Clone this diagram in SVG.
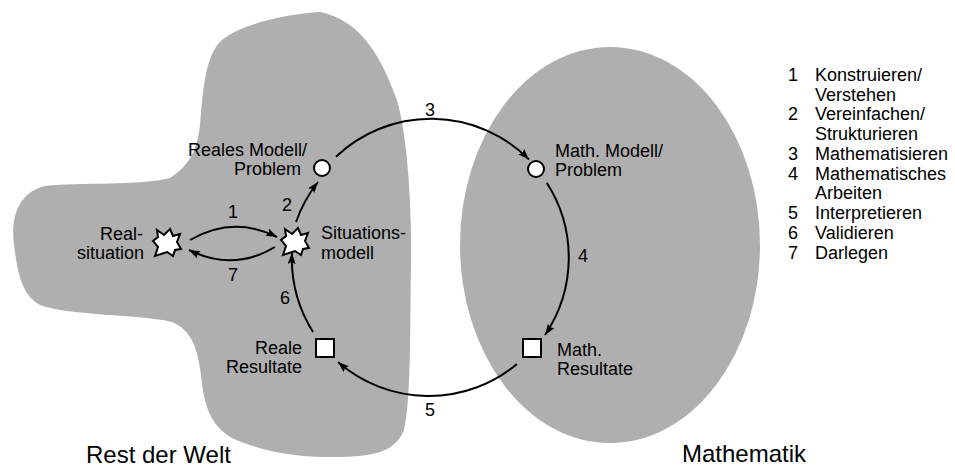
<svg xmlns="http://www.w3.org/2000/svg" width="955" height="467" viewBox="0 0 955 467">
<style>
text{font-family:"Liberation Sans",Arial,Helvetica,sans-serif;font-size:18px;fill:#000}
.title{font-size:24px}
.region{fill:#afafaf;stroke:none}
.conn{fill:none;stroke:#000;stroke-width:2;marker-end:url(#arrow)}
.shape{fill:#fff;stroke:#000;stroke-width:2;stroke-linejoin:miter}
.e{text-anchor:end}
.m{text-anchor:middle}
</style>
<defs>
<marker id="arrow" markerUnits="userSpaceOnUse" markerWidth="12" markerHeight="10" refX="11" refY="4" orient="auto">
<path d="M0,0 L11,4 L0,8 L2,4 z" fill="#000"/>
</marker>
<polygon id="star" points="-10,-13 -3,-8 3,-14 6,-7 13,-9 10,-1 14,6 8,7 6,13 0,9 -12,13 -9,4 -14,-2 -9,-6"/>
</defs>

<g id="region-welt">
<path class="region" d="M320,12 C290,14 245,22 222,40 C205,55 203,90 200,125 C197,150 190,165 170,178 C140,186 80,182 45,186 C20,192 10,215 14,245 C18,275 22,295 40,305 C70,316 140,314 172,322 C192,330 198,350 201,375 C204,405 210,425 232,438 C262,452 300,458 340,457 C375,456 395,452 404,430 C411,400 410,330 411,260 C412,190 405,120 395,95 C380,55 360,20 320,12 Z"/>
<text class="title" x="86" y="463">Rest der Welt</text>
</g>

<g id="region-mathematik">
<ellipse class="region" cx="610" cy="245" rx="150" ry="198"/>
<text class="title" x="682" y="462">Mathematik</text>
</g>

<g id="connectors">
<path class="conn" d="M190,240 Q233,215 277,237"/>
<path class="conn" d="M275,247 Q233,272 189,250"/>
<path class="conn" d="M296,222 A138,138 0 0 1 318,182"/>
<path class="conn" d="M336,156.7 A138,138 0 0 1 529,159.5"/>
<path class="conn" d="M546.7,182.7 A138,138 0 0 1 545,335"/>
<path class="conn" d="M517,364 A138,138 0 0 1 338,362"/>
<path class="conn" d="M313,332 A138,138 0 0 1 292,253"/>
<text class="m" x="233" y="218">1</text>
<text class="m" x="287" y="211">2</text>
<text class="m" x="430" y="116">3</text>
<text class="m" x="583" y="262">4</text>
<text class="m" x="430" y="416">5</text>
<text class="m" x="285" y="304">6</text>
<text class="m" x="233" y="281">7</text>
</g>

<g id="node-realsituation">
<use href="#star" class="shape" transform="translate(167,243)"/>
<text class="e" x="143" y="240">Real-</text>
<text class="e" x="144" y="259">situation</text>
</g>

<g id="node-situationsmodell">
<use href="#star" class="shape" transform="translate(295,242)"/>
<text x="321" y="239">Situations-</text>
<text x="321" y="259">modell</text>
</g>

<g id="node-reales-modell">
<circle class="shape" cx="322" cy="168" r="8"/>
<text class="e" x="307" y="156">Reales Modell/</text>
<text class="e" x="301" y="175">Problem</text>
</g>

<g id="node-math-modell">
<circle class="shape" cx="536" cy="169" r="8"/>
<text x="555" y="157">Math. Modell/</text>
<text x="555" y="176">Problem</text>
</g>

<g id="node-math-resultate">
<rect class="shape" x="523" y="339" width="18" height="18"/>
<text x="557" y="356">Math.</text>
<text x="557" y="375">Resultate</text>
</g>

<g id="node-reale-resultate">
<rect class="shape" x="316" y="339" width="18" height="18"/>
<text class="e" x="302" y="354">Reale</text>
<text class="e" x="302" y="373">Resultate</text>
</g>

<g id="legend">
<text x="788" y="81">1</text><text x="815" y="81">Konstruieren/</text>
<text x="815" y="101">Verstehen</text>
<text x="788" y="120">2</text><text x="815" y="120">Vereinfachen/</text>
<text x="815" y="140">Strukturieren</text>
<text x="788" y="160">3</text><text x="815" y="160">Mathematisieren</text>
<text x="788" y="180">4</text><text x="815" y="180">Mathematisches</text>
<text x="815" y="199">Arbeiten</text>
<text x="788" y="219">5</text><text x="815" y="219">Interpretieren</text>
<text x="788" y="239">6</text><text x="815" y="239">Validieren</text>
<text x="788" y="259">7</text><text x="815" y="259">Darlegen</text>
</g>
</svg>
